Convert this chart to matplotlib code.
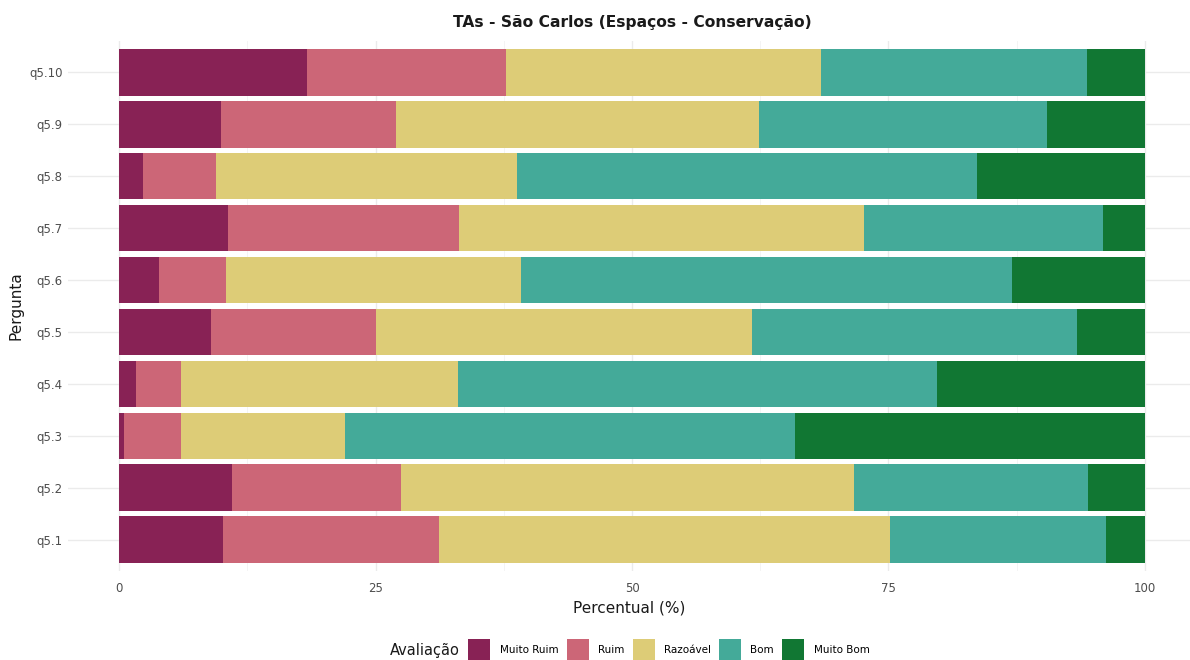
import matplotlib
matplotlib.use("Agg")
import matplotlib.pyplot as plt
from matplotlib.patches import Patch
import numpy as np

questions = ["q5.1", "q5.2", "q5.3", "q5.4", "q5.5", "q5.6", "q5.7", "q5.8", "q5.9", "q5.10"]
categories = ["Muito Ruim", "Ruim", "Razoável", "Bom", "Muito Bom"]
colors = ["#882255", "#CC6677", "#DDCC77", "#44AA99", "#117733"]

muito_ruim = [10.1, 11.0, 0.5, 1.6, 8.9, 3.9, 10.6, 2.3, 9.9, 18.3]
ruim       = [21.1, 16.5, 5.5, 4.4, 16.1, 6.5, 22.5, 7.1, 17.1, 19.4]
razoavel   = [43.9, 44.1, 16.0, 27.0, 36.7, 28.8, 39.5, 29.4, 35.4, 30.7]
bom        = [21.1, 22.9, 43.9, 46.7, 31.7, 47.8, 23.3, 44.8, 28.1, 26.0]
muito_bom  = [3.8, 5.5, 34.1, 20.3, 6.6, 13.0, 4.1, 16.4, 9.5, 5.6]

series = [muito_ruim, ruim, razoavel, bom, muito_bom]

fig = plt.figure(figsize=(11.9, 6.6), dpi=100)
ax = fig.add_axes([68/1190, 1 - 571/660, 1 - 68/1190, (571 - 41)/660])

y = np.arange(len(questions))
left = np.zeros(len(questions))
for vals, col, lab in zip(series, colors, categories):
    ax.barh(y, vals, left=left, height=0.9, color=col, label=lab, edgecolor="none", zorder=2)
    left += np.array(vals)

ax.set_xlim(-5, 104.4)
ax.set_ylim(-0.6, len(questions) - 0.4)
ax.set_xticks([0, 25, 50, 75, 100])
ax.set_xticklabels(["0", "25", "50", "75", "100"])
ax.set_xticks([12.5, 37.5, 62.5, 87.5], minor=True)
ax.set_yticks(y)
ax.set_yticklabels(questions)
ax.grid(True, which="major", color="#ebebeb", linewidth=1.0, zorder=0)
ax.grid(True, which="minor", axis="x", color="#f2f2f2", linewidth=0.6, zorder=0)
ax.set_axisbelow(True)
for s in ax.spines.values():
    s.set_visible(False)
ax.tick_params(axis="both", which="both", length=0, labelsize=8.5, colors="#4d4d4d")
ax.tick_params(axis="x", pad=8)
ax.tick_params(axis="y", pad=4)

ax.set_xlabel("Percentual (%)", fontsize=11, color="#1a1a1a", labelpad=4)
ax.set_ylabel("Pergunta", fontsize=11, color="#1a1a1a", labelpad=4)
fig.text(632/1190, 1 - 22/660, "TAs - São Carlos (Espaços - Conservação)",
         ha="center", va="center", fontsize=11.2, fontweight="bold", color="#1a1a1a")

handles = [Patch(facecolor=c, edgecolor="none") for c in colors]
fig.text(390/1190, 1 - 651/660, "Avaliação", ha="left", va="center", fontsize=10.5, color="#1a1a1a")
fig.legend(handles, categories, loc="center", bbox_to_anchor=(669/1190, 1 - 650/660),
           ncol=5, frameon=False, fontsize=7.5, handlelength=2.1, handleheight=2.9,
           handletextpad=0.9, columnspacing=0.8, borderpad=0)

fig.savefig("out.png", dpi=100)
